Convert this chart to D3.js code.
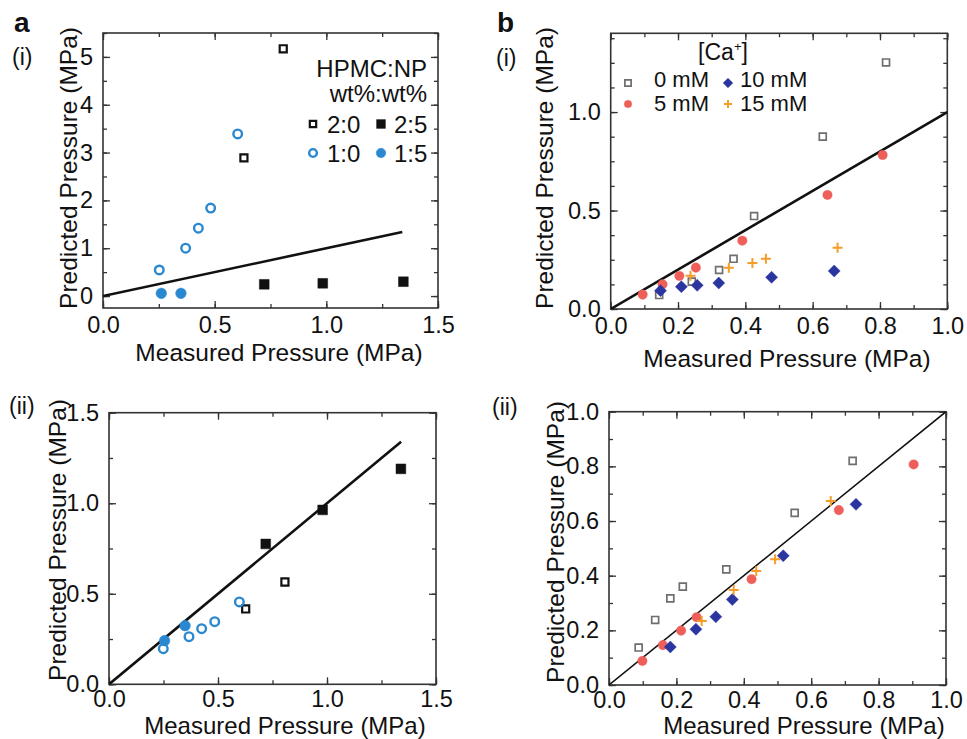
<!DOCTYPE html>
<html><head><meta charset="utf-8">
<script src="https://cdn.jsdelivr.net/npm/d3@7"></script>
<style>
body{margin:0;background:#fff;}
text{font-family:"Liberation Sans",Arial,sans-serif;fill:#111;}
</style></head><body>
<svg id="c" width="967" height="739"></svg>
<script>
// ---------- DATA ----------
// Panel a: HPMC:NP series  [measured, predicted]
const a1_20 = [[0.807,5.17],[0.631,2.89]];
const a1_25 = [[0.722,0.245],[0.984,0.266],[1.345,0.30]];
const a1_10 = [[0.252,0.545],[0.370,1.0],[0.427,1.42],[0.482,1.84],[0.603,3.39]];
const a1_15 = [[0.261,0.056],[0.349,0.056]];
const a2_20 = [[0.627,0.416],[0.807,0.565]];
const a2_25 = [[0.719,0.775],[0.980,0.963],[1.339,1.19]];
const a2_10 = [[0.249,0.197],[0.367,0.263],[0.425,0.307],[0.485,0.346],[0.598,0.455]];
const a2_15 = [[0.255,0.241],[0.349,0.324]];
const aLine = [0, 1.34];
// Panel b: Ca concentration series
const b1_0  = [[0.818,1.252],[0.630,0.875],[0.426,0.472],[0.365,0.255],[0.322,0.198],[0.241,0.139],[0.144,0.071]];
const b1_5  = [[0.808,0.782],[0.644,0.579],[0.391,0.347],[0.253,0.210],[0.204,0.168],[0.154,0.125],[0.095,0.073]];
const b1_10 = [[0.664,0.193],[0.478,0.161],[0.321,0.132],[0.257,0.120],[0.210,0.113],[0.148,0.093]];
const b1_15 = [[0.674,0.311],[0.461,0.255],[0.421,0.234],[0.351,0.210],[0.237,0.169]];
const b2_0  = [[0.723,0.820],[0.551,0.630],[0.348,0.423],[0.219,0.360],[0.182,0.317],[0.137,0.238],[0.088,0.137]];
const b2_5  = [[0.904,0.807],[0.682,0.640],[0.423,0.387],[0.260,0.248],[0.214,0.199],[0.160,0.146],[0.099,0.088]];
const b2_10 = [[0.733,0.661],[0.517,0.473],[0.366,0.313],[0.317,0.250],[0.258,0.204],[0.182,0.139]];
const b2_15 = [[0.658,0.673],[0.493,0.460],[0.437,0.417],[0.370,0.348],[0.275,0.234]];
const bLine = [0, 1.0];
// Tick labels
const a1xTicks = [0,0.5,1.0,1.5], a1yTicks = [0,1,2,3,4,5];
const a2xTicks = [0,0.5,1.0,1.5], a2yTicks = [0,0.5,1.0,1.5];
const b1xTicks = [0,0.2,0.4,0.6,0.8,1.0], b1yTicks = [0,0.5,1.0];
const b2xTicks = [0,0.2,0.4,0.6,0.8,1.0], b2yTicks = [0,0.2,0.4,0.6,0.8,1.0];
const aLegend = ["2:0","2:5","1:0","1:5"];
const bLegend = ["0 mM","10 mM","5 mM","15 mM"];
const xTitle = "Measured Pressure (MPa)", yTitle = "Predicted Pressure (MPa)";

// ---------- STYLE ----------
const BLUE="#2a88d0", RED="#ef5f5a", NAVY="#2b35a0", ORANGE="#f59c2a", GRAY="#6e6e6e", BLK="#111";
const TFS = 23.5, TITLE = 24.5;
const svg = d3.select("#c");

function range(a,b,s){const r=[];for(let v=a;v<=b+1e-9;v+=s)r.push(+v.toFixed(4));return r;}

function panel(o){
  const x = d3.scaleLinear().domain(o.xd).range([o.l,o.r]);
  const y = d3.scaleLinear().domain(o.yd).range([o.b,o.t]);
  const g = svg.append("g");
  const minorX = range(o.xd[0], o.xd[1], o.mx), minorY = range(Math.ceil(o.yd[0]/o.my)*o.my, o.yd[1], o.my);
  const sides = [
    [()=>d3.axisBottom(x), `translate(0,${o.b})`, minorX, o.xt, o.fx, o.xpad],
    [()=>d3.axisTop(x), `translate(0,${o.t})`, minorX, o.xt, o.fx, 0],
    [()=>d3.axisLeft(y), `translate(${o.l},0)`, minorY, o.yt, o.fy, 10],
    [()=>d3.axisRight(y), `translate(${o.r},0)`, minorY, o.yt, o.fy, 0]
  ];
  sides.forEach(([mk,tr,minor,major,fmt,pad])=>{
    const lab = pad>0;
    g.append("g").attr("transform",tr)
      .call(mk().tickValues(minor).tickSize(-4).tickFormat(""))
      .call(s=>{s.select(".domain").remove(); s.selectAll("line").attr("stroke","#333").attr("stroke-width",1.3);});
    g.append("g").attr("transform",tr)
      .call(mk().tickValues(major).tickSize(-7).tickPadding(pad).tickFormat(lab?fmt:""))
      .call(s=>{s.select(".domain").remove(); s.selectAll("line").attr("stroke","#333").attr("stroke-width",1.3);
        s.selectAll("text").attr("font-size",TFS).attr("fill","#111").style("font-family","Liberation Sans, Arial, sans-serif");});
  });
  g.append("rect").attr("x",o.l).attr("y",o.t).attr("width",o.r-o.l).attr("height",o.b-o.t)
    .attr("fill","none").attr("stroke","#333").attr("stroke-width",1.6);
  const clip = "clip"+Math.round(o.l)+"_"+Math.round(o.t);
  svg.append("clipPath").attr("id",clip).append("rect").attr("x",o.l).attr("y",o.t).attr("width",o.r-o.l).attr("height",o.b-o.t);
  const pg = g.append("g").attr("clip-path",`url(#${clip})`);
  pg.append("line").attr("x1",x(o.line[0])).attr("y1",y(o.line[0])).attr("x2",x(o.line[1])).attr("y2",y(o.line[1]))
    .attr("stroke",BLK).attr("stroke-width",o.lw);
  g.append("text").attr("x",o.xtx).attr("y",o.xty).attr("text-anchor","middle").attr("font-size",o.tfs||TITLE).text(xTitle);
  g.append("text").attr("transform",`translate(${o.ytx},${o.yty}) rotate(-90)`).attr("text-anchor","middle").attr("font-size",TITLE).text(yTitle);
  return {x,y,g:pg};
}

function pts(p, data, kind){
  const sel = p.g.append("g").selectAll("path").data(data).join("path")
    .attr("transform",d=>`translate(${p.x(d[0])},${p.y(d[1])})`);
  styleMarker(sel, kind, 1);
}
function styleMarker(sel, kind, k){
  if(kind==="plusOr"){
    const h=5*k;
    sel.attr("d",`M${-h},0H${h}M0,${-h}V${h}`).attr("fill","none").attr("stroke",ORANGE).attr("stroke-width",2);
    return;
  }
  if(kind==="diaNavy"){
    const h=6*k;
    sel.attr("d",`M0,${-h}L${h},0L0,${h}L${-h},0Z`).attr("fill",NAVY).attr("stroke",NAVY).attr("stroke-width",0.5);
    return;
  }
  const K = {
    sqOpenBlk: [d3.symbolSquare, 50, "none", BLK, 2.2],
    sqFillBlk: [d3.symbolSquare, 95, BLK, BLK, 0.5],
    cirOpenBlue: [d3.symbolCircle, 58, "none", BLUE, 2.4],
    cirFillBlue: [d3.symbolCircle, 88, BLUE, BLUE, 0.5],
    sqGray: [d3.symbolSquare, 48, "none", GRAY, 1.7],
    cirRed: [d3.symbolCircle, 72, RED, RED, 0.3]
  }[kind];
  sel.attr("d", d3.symbol().type(K[0]).size(K[1]*k*k)()).attr("fill",K[2]).attr("stroke",K[3]).attr("stroke-width",K[4]);
}

// ---------- PANELS ----------
const fmt1 = d3.format(".1f"), fmt0 = d3.format("d");
const pa1 = panel({l:103,r:438,t:33,b:308,xd:[0,1.5],yd:[-0.25,5.5],xt:a1xTicks,yt:a1yTicks,mx:0.25,my:0.5,
  fx:fmt1,fy:fmt0,line:aLine,lw:2.6,xpad:8,xtx:279,xty:361,ytx:77,yty:168});
pts(pa1,a1_20,"sqOpenBlk"); pts(pa1,a1_25,"sqFillBlk"); pts(pa1,a1_10,"cirOpenBlue"); pts(pa1,a1_15,"cirFillBlue");

const pa2 = panel({l:109,r:436,t:412.7,b:684.3,xd:[0,1.5],yd:[0,1.5],xt:a2xTicks,yt:a2yTicks,mx:0.25,my:0.25,
  fx:fmt1,fy:fmt1,line:aLine,lw:2.6,xpad:6,xtx:285,xty:733.5,tfs:24,ytx:66,yty:540});
pts(pa2,a2_20,"sqOpenBlk"); pts(pa2,a2_25,"sqFillBlk"); pts(pa2,a2_10,"cirOpenBlue"); pts(pa2,a2_15,"cirFillBlue");

const pb1 = panel({l:610.7,r:947.3,t:33.3,b:309,xd:[0,1.0],yd:[0,1.4],xt:b1xTicks,yt:b1yTicks,mx:0.1,my:0.125,
  fx:fmt1,fy:fmt1,line:bLine,lw:2.6,xpad:8,xtx:787,xty:367,ytx:553,yty:168});
pts(pb1,b1_0,"sqGray"); pts(pb1,b1_5,"cirRed"); pts(pb1,b1_10,"diaNavy"); pts(pb1,b1_15,"plusOr");

const pb2 = panel({l:609,r:946,t:411.7,b:685,xd:[0,1.0],yd:[0,1.0],xt:b2xTicks,yt:b2yTicks,mx:0.1,my:0.1,
  fx:fmt1,fy:fmt1,line:bLine,lw:1.5,xpad:6,xtx:804,xty:733.5,tfs:24,ytx:564,yty:542});
pts(pb2,b2_0,"sqGray"); pts(pb2,b2_5,"cirRed"); pts(pb2,b2_10,"diaNavy"); pts(pb2,b2_15,"plusOr");

// ---------- LEGENDS ----------
function legItem(x0,y0,kind,label,tx,ty,fs,k){
  const s = svg.append("path").attr("transform",`translate(${x0},${y0})`);
  styleMarker(s,kind,k);
  svg.append("text").attr("x",tx).attr("y",ty).attr("font-size",fs).text(label);
}
svg.append("text").attr("x",427).attr("y",77).attr("text-anchor","end").attr("font-size",24).text("HPMC:NP");
svg.append("text").attr("x",427).attr("y",102).attr("text-anchor","end").attr("font-size",24).text("wt%:wt%");
legItem(313,124,"sqOpenBlk",aLegend[0],327,133,24,0.9);
legItem(381,124,"sqFillBlk",aLegend[1],394,133,24,0.9);
legItem(313,153,"cirOpenBlue",aLegend[2],327,162,24,0.9);
legItem(381,153,"cirFillBlue",aLegend[3],394,162,24,0.9);

const ca = svg.append("text").attr("x",723).attr("y",60).attr("text-anchor","middle").attr("font-size",23);
ca.append("tspan").text("[Ca");
ca.append("tspan").attr("font-size",13).attr("dy",-9).text("+");
ca.append("tspan").attr("dy",9).text("]");
legItem(628,83,"sqGray",bLegend[0],654,87,22,0.9);
legItem(728,83,"diaNavy",bLegend[1],740,87,22,0.8);
legItem(628,104,"cirRed",bLegend[2],654,111,22,0.8);
legItem(728,104,"plusOr",bLegend[3],740,111,22,0.8);

// ---------- PANEL LABELS ----------
svg.append("text").attr("x",14).attr("y",32).attr("font-size",28).attr("font-weight","bold").text("a");
svg.append("text").attr("x",12).attr("y",65).attr("font-size",23).text("(i)");
svg.append("text").attr("x",497).attr("y",32).attr("font-size",28).attr("font-weight","bold").text("b");
svg.append("text").attr("x",496).attr("y",66).attr("font-size",23).text("(i)");
svg.append("text").attr("x",9).attr("y",414).attr("font-size",23).text("(ii)");
svg.append("text").attr("x",492).attr("y",415).attr("font-size",23).text("(ii)");
</script></body></html>
